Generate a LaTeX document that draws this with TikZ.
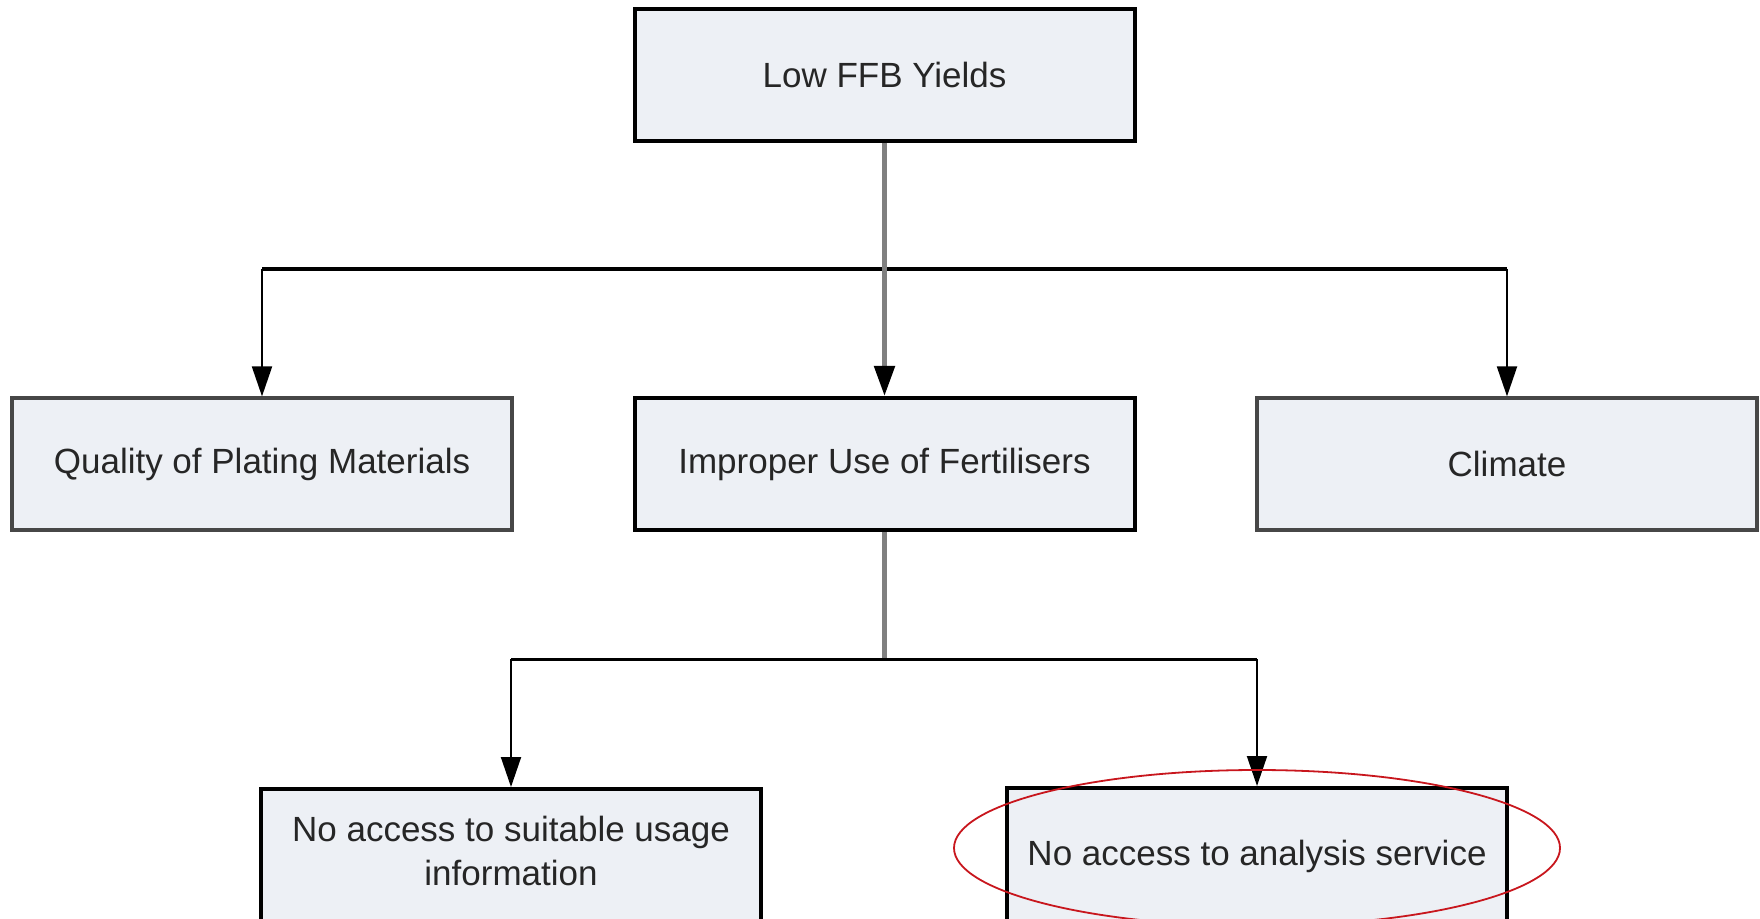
\documentclass[tikz,border=0pt]{standalone}
\usepackage{fontspec}
\setmainfont{Liberation Sans}
\usetikzlibrary{arrows.meta}
\definecolor{boxfill}{HTML}{EDF0F5}
\definecolor{ringred}{HTML}{C8161D}
\begin{document}
\begin{tikzpicture}[x=0.5pt,y=-0.5pt,
  box/.style={draw=black, line width=2pt, fill=boxfill, minimum width=250pt,
    minimum height=66pt, inner sep=0pt, align=center,
    font=\fontsize{17.5pt}{21.5pt}\selectfont, text=black!85},
  softbox/.style={box, draw=black!72, line width=1.6pt},
  boxtext/.style={align=center, inner sep=0pt,
    font=\fontsize{17.5pt}{21.8pt}\selectfont, text=black!85},
  tip/.style={-{Triangle[length=15pt,width=10pt,color=black]}},
  trunk/.style={draw=black!50, line width=2.5pt},
  bus/.style={draw=black, line width=2pt},
  lowbus/.style={draw=black, line width=1.5pt},
  drop/.style={draw=black, line width=1pt, tip}]
  \clip (0,0) rectangle (1760,919);
  \useasboundingbox (0,0) rectangle (1760,919);

  % causes tree
  \node[box]     (top)     at (884.5,75)  {Low FFB Yields};
  \node[softbox] (quality) at (262,464)   {Quality of Plating Materials};
  \node[box]     (improper) at (884.5,464) {Improper Use of Fertilisers};
  \node[softbox] (climate) at (1507,464)  {Climate};
  \node[box, minimum height=68pt] (usage)    at (511,857)  {};
  \node[boxtext] (usagetext) at (511,851) {No access to suitable usage\\information};
  \node[box, minimum height=68pt] (analysis) at (1257,856) {No access to analysis service};

  % junctions of the branching lines
  \coordinate (upjoin) at (884.5,269);
  \coordinate (lowjoin) at (884.5,659);

  % first level
  \draw[bus] (quality.north |- upjoin) -- (climate.north |- upjoin);
  \draw[trunk, tip] (top.south) -- (improper.north);
  \draw[drop] (quality.north |- upjoin) -- (quality.north);
  \draw[drop] (climate.north |- upjoin) -- (climate.north);

  % second level
  \draw[trunk] (improper.south) -- (lowjoin);
  \draw[lowbus] (usage.north |- lowjoin) -- (analysis.north |- lowjoin);
  \draw[drop] (usage.north |- lowjoin) -- (usage.north);
  \draw[drop] (analysis.north |- lowjoin) -- (analysis.north);

  % highlight ring
  \draw[ringred, line width=0.9pt] (analysis.center) ++(0,-8)
    ellipse [x radius=151.5pt, y radius=39pt];
\end{tikzpicture}
\end{document}
